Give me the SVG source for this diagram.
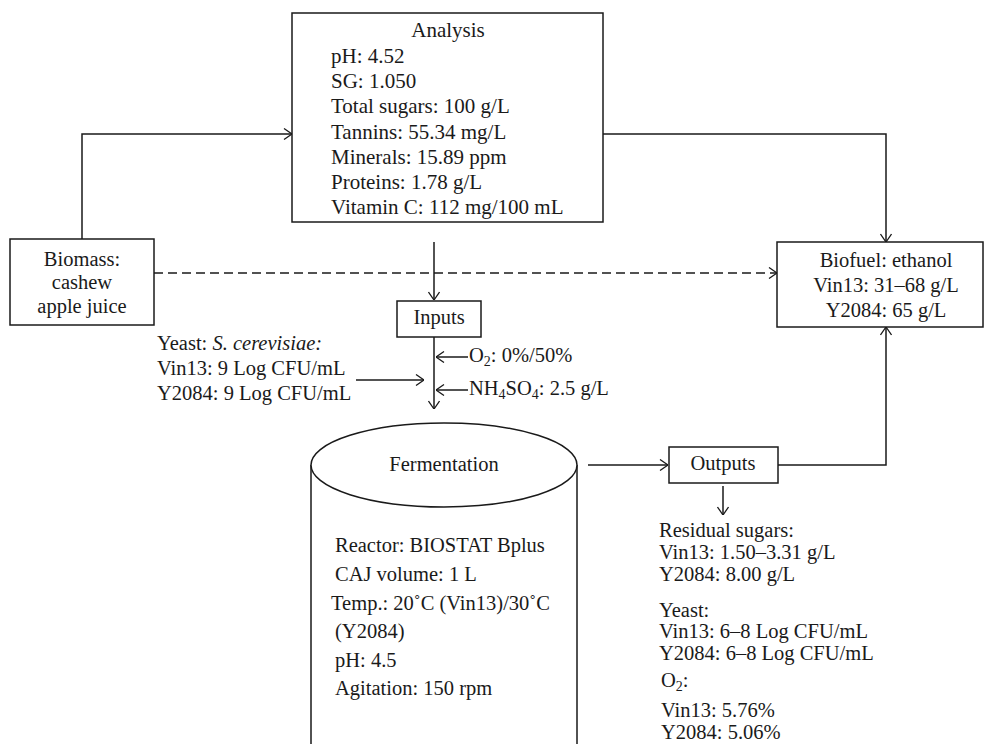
<svg xmlns="http://www.w3.org/2000/svg" width="984" height="744" viewBox="0 0 984 744">
<defs>
<marker id="arr" viewBox="0 0 10 12" refX="10" refY="6" markerWidth="10" markerHeight="12" markerUnits="userSpaceOnUse" orient="auto">
<path d="M2,0.5 L10,6 L2,11.5" fill="none" stroke="#1a1a1a" stroke-width="1.3"/>
</marker>
</defs>
<style>
text{font-family:"Liberation Serif","Times New Roman",serif;font-size:20.5px;fill:#1a1a1a}
.c{text-anchor:middle}
.a{font-size:21px}
.box{fill:#fff;stroke:#1a1a1a;stroke-width:1.5}
.ln{fill:none;stroke:#1a1a1a;stroke-width:1.5;marker-end:url(#arr)}
.dash{stroke-dasharray:9,5}
.sub{font-size:14px}
</style>
<rect width="984" height="744" fill="#fff"/>
<g id="connectors">
<path class="ln" d="M82,239 V134 H292"/>
<path class="ln" d="M603,134 H886 V242"/>
<path class="ln dash" d="M154,273 H777"/>
<path class="ln" d="M434,242 V300"/>
<path class="ln" d="M434,337 V409"/>
<path class="ln" d="M468,357 H436"/>
<path class="ln" d="M468,390 H436"/>
<path class="ln" d="M356,380 H424"/>
<path class="ln" d="M588,465 H668"/>
<path class="ln" d="M778,465 H886 V327"/>
<path class="ln" d="M723,486 V515"/>
</g>
<g id="analysis">
<rect class="box" x="292" y="13" width="311" height="209"/>
<text class="c a" x="448" y="37">Analysis</text>
<text class="a" x="331" y="63">pH: 4.52</text>
<text class="a" x="331" y="88">SG: 1.050</text>
<text class="a" x="331" y="113">Total sugars: 100 g/L</text>
<text class="a" x="331" y="139">Tannins: 55.34 mg/L</text>
<text class="a" x="331" y="164">Minerals: 15.89 ppm</text>
<text class="a" x="331" y="189">Proteins: 1.78 g/L</text>
<text class="a" x="331" y="214">Vitamin C: 112 mg/100 mL</text>
</g>
<g id="biomass">
<rect class="box" x="10" y="239" width="144" height="86"/>
<text class="c" x="82" y="266">Biomass:</text>
<text class="c" x="82" y="289">cashew</text>
<text class="c" x="82" y="313">apple juice</text>
</g>
<g id="biofuel">
<rect class="box" x="777" y="242" width="206" height="85"/>
<text class="c" x="886" y="267">Biofuel: ethanol</text>
<text class="c" x="886" y="292">Vin13: 31–68 g/L</text>
<text class="c" x="886" y="317">Y2084: 65 g/L</text>
</g>
<g id="inputs">
<rect class="box" x="397" y="301" width="84" height="36"/>
<text class="c" x="439" y="324">Inputs</text>
</g>
<g id="yeast-in">
<text x="157" y="350">Yeast: <tspan font-style="italic">S. cerevisiae:</tspan></text>
<text x="157" y="375">Vin13: 9 Log CFU/mL</text>
<text x="157" y="400">Y2084: 9 Log CFU/mL</text>
</g>
<g id="o2-in">
<text x="469" y="362">O<tspan class="sub" dy="4">2</tspan><tspan dy="-4">: 0%/50%</tspan></text>
</g>
<g id="nh4-in">
<text x="469" y="395">NH<tspan class="sub" dy="4">4</tspan><tspan dy="-4">SO</tspan><tspan class="sub" dy="4">4</tspan><tspan dy="-4">: 2.5 g/L</tspan></text>
</g>
<g id="fermentation">
<path class="box" d="M311,465 V760 H577 V465"/>
<ellipse class="box" cx="444" cy="465" rx="133" ry="42"/>
<text class="c" x="444" y="471">Fermentation</text>
<text x="335" y="552">Reactor: BIOSTAT Bplus</text>
<text x="335" y="581">CAJ volume: 1 L</text>
<text x="331" y="610">Temp.: 20˚C (Vin13)/30˚C</text>
<text x="335" y="638">(Y2084)</text>
<text x="335" y="667">pH: 4.5</text>
<text x="335" y="695">Agitation: 150 rpm</text>
</g>
<g id="outputs">
<rect class="box" x="669" y="447" width="109" height="36"/>
<text class="c" x="723" y="470">Outputs</text>
</g>
<g id="results">
<text x="659" y="537">Residual sugars:</text>
<text x="659" y="559">Vin13: 1.50–3.31 g/L</text>
<text x="659" y="581">Y2084: 8.00 g/L</text>
<text x="659" y="617">Yeast:</text>
<text x="659" y="638">Vin13: 6–8 Log CFU/mL</text>
<text x="659" y="660">Y2084: 6–8 Log CFU/mL</text>
<text x="661" y="687">O<tspan class="sub" dy="4">2</tspan><tspan dy="-4">:</tspan></text>
<text x="661" y="717">Vin13: 5.76%</text>
<text x="661" y="739">Y2084: 5.06%</text>
</g>
</svg>
